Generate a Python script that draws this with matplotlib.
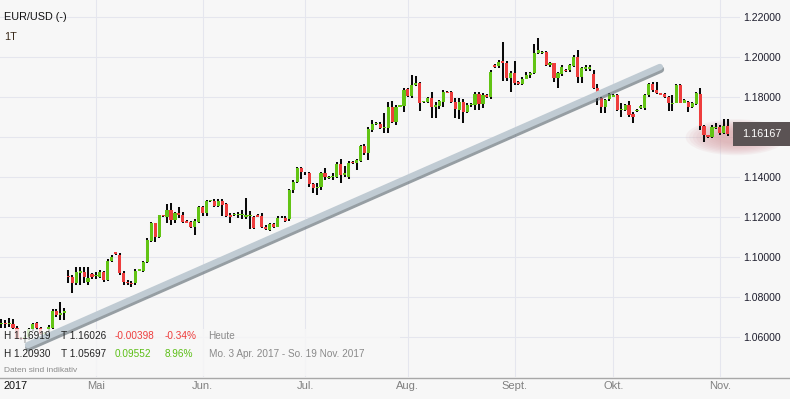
import numpy as np
import pandas as pd
import matplotlib
matplotlib.use('Agg')
import matplotlib.pyplot as plt
import matplotlib.patheffects as pe
from matplotlib.patches import Ellipse, Rectangle
from matplotlib.lines import Line2D

plt.rcParams['font.family'] = ['Liberation Sans', 'DejaVu Sans']

# trading sessions: Mon-Fri plus the short Sunday session
sessions = pd.date_range('2017-04-03', '2017-11-03', freq='D')
sessions = sessions[sessions.dayofweek != 5]

opens = [
    1.0665, 1.0668, 1.0663, 1.0665, 1.0643, 1.0592, 1.0590, 1.0600, 1.0640, 1.0668,
    1.0643, 1.0615, 1.0640, 1.0643, 1.0732, 1.0712, 1.0722, 1.0905, 1.0902, 1.0868,
    1.0920, 1.0927, 1.0877, 1.0915, 1.0905, 1.0902, 1.0927, 1.0885, 1.0982, 1.1023,
    1.1010, 1.0922, 1.0877, 1.0872, 1.0868, 1.0932, 1.0932, 1.0977, 1.1082, 1.1168,
    1.1102, 1.1210, 1.1202, 1.1235, 1.1185, 1.1218, 1.1210, 1.1182, 1.1177, 1.1152,
    1.1177, 1.1248, 1.1218, 1.1280, 1.1282, 1.1255, 1.1282, 1.1265, 1.1210, 1.1210,
    1.1210, 1.1212, 1.1200, 1.1205, 1.1198, 1.1212, 1.1205, 1.1152, 1.1135, 1.1165,
    1.1152, 1.1198, 1.1193, 1.1188, 1.1335, 1.1377, 1.1443, 1.1420, 1.1418, 1.1365,
    1.1345, 1.1352, 1.1418, 1.1393, 1.1400, 1.1402, 1.1465, 1.1410, 1.1398, 1.1477,
    1.1472, 1.1482, 1.1555, 1.1522, 1.1635, 1.1665, 1.1667, 1.1643, 1.1643, 1.1752,
    1.1677, 1.1752, 1.1755, 1.1838, 1.1805, 1.1862, 1.1868, 1.1775, 1.1777, 1.1793,
    1.1752, 1.1755, 1.1777, 1.1825, 1.1827, 1.1777, 1.1735, 1.1777, 1.1727, 1.1760,
    1.1760, 1.1815, 1.1765, 1.1810, 1.1802, 1.1960, 1.1955, 1.1980, 1.1972, 1.1893,
    1.1922, 1.1873, 1.1867, 1.1892, 1.1908, 1.1922, 1.2018, 1.2018, 1.2027, 1.1958,
    1.1968, 1.1893, 1.1915, 1.1935, 1.1935, 1.1955, 1.1998, 1.1898, 1.1940, 1.1938,
    1.1915, 1.1843, 1.1793, 1.1748, 1.1788, 1.1802, 1.1810, 1.1735, 1.1737, 1.1760,
    1.1715, 1.1728, 1.1743, 1.1743, 1.1810, 1.1865, 1.1835, 1.1818, 1.1815, 1.1802,
    1.1765, 1.1772, 1.1860, 1.1772, 1.1777, 1.1752, 1.1765, 1.1815, 1.1655, 1.1610,
    1.1600, 1.1645, 1.1652, 1.1622, 1.16565,
]
highs = [
    1.0688, 1.0685, 1.0693, 1.0688, 1.0655, 1.0598, 1.0610, 1.0645, 1.0672, 1.0675,
    1.0648, 1.0625, 1.0660, 1.0738, 1.0738, 1.0777, 1.0743, 1.0935, 1.0910, 1.0952,
    1.0948, 1.0952, 1.0948, 1.0922, 1.0927, 1.0935, 1.0932, 1.0990, 1.1010, 1.1027,
    1.1022, 1.0930, 1.0885, 1.0880, 1.0938, 1.0942, 1.0982, 1.1093, 1.1175, 1.1172,
    1.1212, 1.1212, 1.1265, 1.1268, 1.1225, 1.1248, 1.1227, 1.1185, 1.1182, 1.1188,
    1.1255, 1.1255, 1.1285, 1.1285, 1.1290, 1.1290, 1.1288, 1.1270, 1.1218, 1.1218,
    1.1227, 1.1235, 1.1293, 1.1232, 1.1205, 1.1215, 1.1218, 1.1158, 1.1172, 1.1172,
    1.1205, 1.1205, 1.1205, 1.1340, 1.1385, 1.1450, 1.1448, 1.1427, 1.1425, 1.1372,
    1.1368, 1.1425, 1.1443, 1.1405, 1.1418, 1.1477, 1.1488, 1.1455, 1.1478, 1.1480,
    1.1490, 1.1560, 1.1565, 1.1650, 1.1685, 1.1675, 1.1675, 1.1718, 1.1777, 1.1782,
    1.1758, 1.1762, 1.1843, 1.1843, 1.1910, 1.1905, 1.1875, 1.1782, 1.1800, 1.1827,
    1.1777, 1.1785, 1.1835, 1.1832, 1.1832, 1.1793, 1.1793, 1.1788, 1.1768, 1.1768,
    1.1827, 1.1827, 1.1822, 1.1815, 1.1935, 1.1965, 1.1985, 1.2077, 1.1980, 1.1930,
    1.1982, 1.1878, 1.1898, 1.1927, 1.1925, 1.2065, 1.2093, 1.2030, 1.2032, 1.1975,
    1.1972, 1.1927, 1.1960, 1.1938, 1.1965, 1.2010, 1.2035, 1.1948, 1.1960, 1.1958,
    1.1935, 1.1865, 1.1798, 1.1790, 1.1822, 1.1815, 1.1815, 1.1768, 1.1765, 1.1782,
    1.1725, 1.1738, 1.1760, 1.1815, 1.1868, 1.1877, 1.1877, 1.1820, 1.1822, 1.1805,
    1.1810, 1.1865, 1.1865, 1.1790, 1.1782, 1.1775, 1.1825, 1.1843, 1.1660, 1.1612,
    1.1660, 1.1668, 1.1660, 1.1688, 1.16919,
]
lows = [
    1.0643, 1.0643, 1.0652, 1.0640, 1.0590, 1.0585, 1.05697, 1.0585, 1.0630, 1.0635,
    1.0610, 1.0605, 1.0625, 1.0640, 1.0702, 1.0685, 1.0685, 1.0868, 1.0822, 1.0860,
    1.0860, 1.0868, 1.0860, 1.0890, 1.0888, 1.0895, 1.0875, 1.0880, 1.0975, 1.1010,
    1.0912, 1.0860, 1.0860, 1.0852, 1.0860, 1.0928, 1.0925, 1.0970, 1.1075, 1.1077,
    1.1095, 1.1200, 1.1168, 1.1160, 1.1172, 1.1193, 1.1172, 1.1168, 1.1145, 1.1110,
    1.1170, 1.1205, 1.1205, 1.1275, 1.1248, 1.1250, 1.1205, 1.1198, 1.1168, 1.1205,
    1.1193, 1.1190, 1.1188, 1.1138, 1.1138, 1.1198, 1.1147, 1.1135, 1.1132, 1.1145,
    1.1148, 1.1195, 1.1177, 1.1180, 1.1320, 1.1370, 1.1388, 1.1410, 1.1352, 1.1318,
    1.1310, 1.1335, 1.1385, 1.1390, 1.1385, 1.1393, 1.1372, 1.1398, 1.1392, 1.1465,
    1.1435, 1.1475, 1.1510, 1.1485, 1.1627, 1.1662, 1.1638, 1.1618, 1.1618, 1.1668,
    1.1660, 1.1748, 1.1727, 1.1802, 1.1795, 1.1855, 1.1732, 1.1772, 1.1768, 1.1693,
    1.1693, 1.1740, 1.1752, 1.1818, 1.1770, 1.1693, 1.1688, 1.1668, 1.1718, 1.1752,
    1.1735, 1.1735, 1.1743, 1.1795, 1.1790, 1.1943, 1.1945, 1.1882, 1.1882, 1.1827,
    1.1860, 1.1862, 1.1860, 1.1888, 1.1895, 1.1915, 1.2015, 1.2015, 1.1955, 1.1950,
    1.1877, 1.1843, 1.1905, 1.1927, 1.1925, 1.1950, 1.1868, 1.1868, 1.1930, 1.1932,
    1.1838, 1.1760, 1.1722, 1.1722, 1.1782, 1.1798, 1.1730, 1.1702, 1.1730, 1.1698,
    1.1672, 1.1725, 1.1738, 1.1735, 1.1802, 1.1827, 1.1815, 1.1808, 1.1795, 1.1732,
    1.1732, 1.1768, 1.1768, 1.1768, 1.1727, 1.1745, 1.1760, 1.1635, 1.1577, 1.1595,
    1.1593, 1.1638, 1.1610, 1.1615, 1.16026,
]
closes = [
    1.0668, 1.0663, 1.0668, 1.0643, 1.0592, 1.0590, 1.0600, 1.0640, 1.0665, 1.0643,
    1.0615, 1.0620, 1.0652, 1.0732, 1.0710, 1.0718, 1.0730, 1.0898, 1.0868, 1.0927,
    1.0928, 1.0902, 1.0893, 1.0902, 1.0910, 1.0927, 1.0885, 1.0982, 1.1002, 1.1013,
    1.0918, 1.0877, 1.0868, 1.0865, 1.0932, 1.0938, 1.0977, 1.1085, 1.1168, 1.1102,
    1.1210, 1.1205, 1.1235, 1.1185, 1.1218, 1.1210, 1.1177, 1.1172, 1.1152, 1.1182,
    1.1248, 1.1218, 1.1282, 1.1282, 1.1255, 1.1282, 1.1260, 1.1205, 1.1198, 1.1212,
    1.1212, 1.1215, 1.1208, 1.1212, 1.1143, 1.1202, 1.1152, 1.1138, 1.1165, 1.1152,
    1.1193, 1.1200, 1.1182, 1.1335, 1.1377, 1.1443, 1.1427, 1.1418, 1.1365, 1.1343,
    1.1352, 1.1418, 1.1398, 1.1402, 1.1407, 1.1465, 1.1410, 1.1418, 1.1472, 1.1468,
    1.1485, 1.1555, 1.1522, 1.1638, 1.1665, 1.1672, 1.1643, 1.1652, 1.1752, 1.1677,
    1.1752, 1.1758, 1.1835, 1.1805, 1.1860, 1.1870, 1.1772, 1.1778, 1.1793, 1.1752,
    1.1760, 1.1780, 1.1827, 1.1822, 1.1777, 1.1738, 1.1777, 1.1727, 1.1760, 1.1762,
    1.1815, 1.1765, 1.1810, 1.1802, 1.1927, 1.1948, 1.1975, 1.1970, 1.1893, 1.1922,
    1.1868, 1.1867, 1.1892, 1.1908, 1.1918, 1.2022, 1.2035, 1.2027, 1.1960, 1.1968,
    1.1893, 1.1918, 1.1952, 1.1932, 1.1960, 1.1998, 1.1898, 1.1943, 1.1950, 1.1952,
    1.1843, 1.1793, 1.1748, 1.1785, 1.1815, 1.1810, 1.1735, 1.1738, 1.1760, 1.1710,
    1.1702, 1.1735, 1.1755, 1.1810, 1.1865, 1.1835, 1.1818, 1.1810, 1.1802, 1.1768,
    1.1770, 1.1860, 1.1772, 1.1785, 1.1752, 1.1768, 1.1818, 1.1655, 1.1610, 1.1598,
    1.1648, 1.1650, 1.1622, 1.16565, 1.16167,
]

month_labels = ['Mai', 'Jun.', 'Jul.', 'Aug.', 'Sept.', 'Okt.', 'Nov.']
yticks = [1.06, 1.08, 1.10, 1.12, 1.14, 1.16, 1.18, 1.20, 1.22]

# hand-drawn trend line (session position, price)
trend_x = [6.8, 166.8]
trend_y = [1.0560, 1.1950]

# info rows
row_today = ['H 1.16919', 'T 1.16026', '-0.00398', '-0.34%', 'Heute']
row_period = ['H 1.20930', 'T 1.05697', '0.09552', '8.96%', 'Mo. 3 Apr. 2017 - So. 19 Nov. 2017']

bg = '#f7f7f7'
green = '#62c414'
red = '#ee3d3d'
W, H = 790, 399


def fx(px):
    return px / W


def fy(py):
    return 1 - py / H


o = np.array(opens)
h = np.array(highs)
l = np.array(lows)
c = np.array(closes)
x = np.arange(len(sessions))

# first session of each month
month_pos = [i for i in range(1, len(sessions)) if sessions[i].month != sessions[i - 1].month]

fig = plt.figure(figsize=(W / 100, H / 100), dpi=100, facecolor=bg)
ax = fig.add_axes([0, fy(377), fx(740), 377 / H])
ax.set_facecolor(bg)
ax.set_xlim(-0.3, 187.1)
ax.set_ylim(1.04, 1.2285)

# candles
ax.vlines(x, np.minimum(l, np.minimum(o, c)), np.maximum(h, np.maximum(o, c)),
          color='#0a0a0a', lw=1.45, zorder=2)
body_lo = np.minimum(o, c)
body_h = np.maximum(np.abs(c - o), 0.0003)
colors = [green if cc >= oo else red for oo, cc in zip(o, c)]
ax.bar(x, body_h, bottom=body_lo, width=0.8, color=colors, linewidth=0, zorder=3)

# glow behind the last price
for k in range(10):
    s = 1 - k * 0.07
    ax.add_patch(Ellipse((x[-1] + 2.1, c[-1] - 0.0018), 25.5 * s, 0.0180 * s,
                         facecolor='#d89ea2', edgecolor='none', alpha=0.1,
                         zorder=1, clip_on=False))

# translucent panel under the info text
ax.add_patch(Rectangle((0, fy(376)), fx(400), 47 / H, transform=fig.transFigure,
                       facecolor=bg, edgecolor='none', alpha=0.8, zorder=3.5, clip_on=False))

ax.plot(trend_x, trend_y, color='#c0cbd3', lw=4.6, solid_capstyle='round', zorder=4,
        path_effects=[pe.SimpleLineShadow(offset=(0.5, -1.7), shadow_color='#56636c',
                                          alpha=0.6, linewidth=5.2),
                      pe.Normal()])

ax.set_yticks(yticks)
# the 1.16 label sits under the last-price box
ax.set_yticklabels(['' if abs(v - 1.16) < 1e-9 else '%.5f' % v for v in yticks])
ax.yaxis.tick_right()
ax.set_xticks(month_pos)
ax.set_xticklabels(month_labels)
ax.grid(True, color='#e5e6ee', lw=0.8)
ax.set_axisbelow(True)
ax.tick_params(axis='y', length=0, pad=2.3, labelsize=7.6, labelcolor='#1e1e2e')
ax.tick_params(axis='x', length=0, pad=3, labelsize=8, labelcolor='#808080')
for sp in ax.spines.values():
    sp.set_visible(False)

fig.add_artist(Line2D([0, 1], [fy(377.5)] * 2, transform=fig.transFigure,
                      color='#a8a8a8', lw=1))

# last price label
fig.add_artist(Rectangle((fx(733), fy(146)), fx(57), 24 / H, transform=fig.transFigure,
                         facecolor='#5b5354', edgecolor='none', zorder=5))
fig.text(fx(762), fy(134), '%.5f' % c[-1], color='white', fontsize=7.8,
         ha='center', va='center', zorder=6)

# titles and info rows
fig.text(fx(4), fy(16.5), 'EUR/USD (-)', fontsize=7.8, color='#111111', va='center')
fig.text(fx(4), fy(37), '1T', fontsize=7.8, color='#3b2b1b', va='center')
fig.text(fx(3), fy(386), '2017', fontsize=7.8, color='#111111', va='center')

cols = [3.5, 60.5, 115, 164.5, 208.5]
today_colors = ['#222222', '#222222', red, red, '#8a8a8a']
period_colors = ['#222222', '#222222', '#5cbf16', '#5cbf16', '#8a8a8a']
for xp, t, col in zip(cols, row_today, today_colors):
    fig.text(fx(xp), fy(336), t, fontsize=7.2, color=col, va='center', zorder=6)
for xp, t, col in zip(cols, row_period, period_colors):
    fig.text(fx(xp), fy(354), t, fontsize=7.2, color=col, va='center', zorder=6)
fig.text(fx(3.5), fy(370.5), 'Daten sind indikativ', fontsize=6, color='#8a8a8a', va='center')

fig.savefig('out.png', dpi=100, facecolor=bg)
